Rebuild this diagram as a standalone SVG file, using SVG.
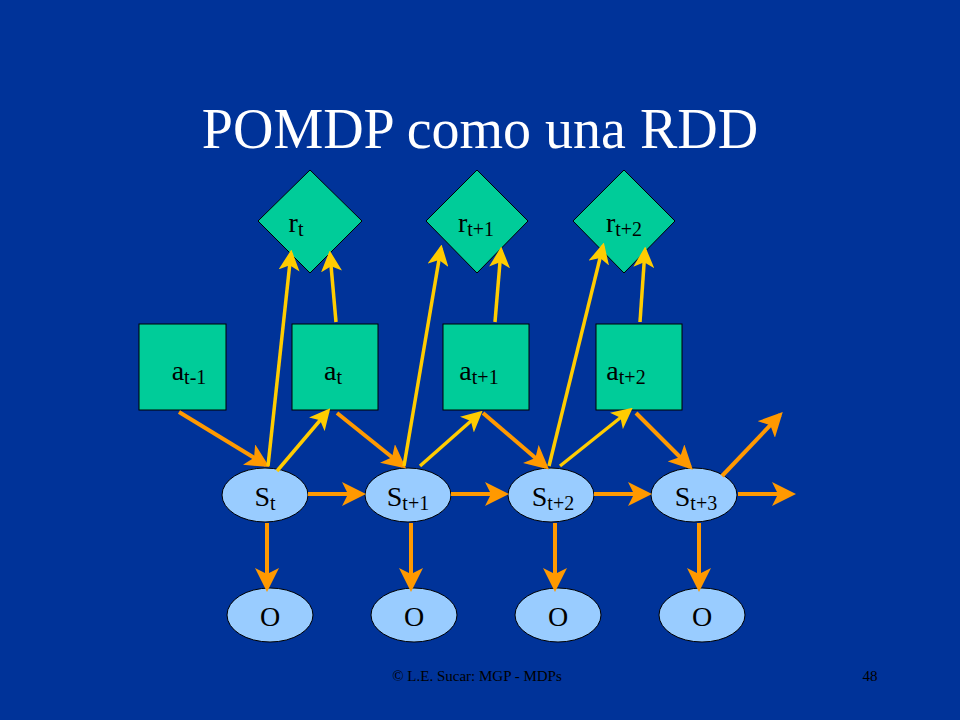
<svg xmlns="http://www.w3.org/2000/svg" width="960" height="720" viewBox="0 0 960 720">
<defs>
<marker id="mo" markerWidth="6" markerHeight="6" refX="5" refY="3" orient="auto" markerUnits="strokeWidth"><path d="M0,0 L6,3 L0,6 L1.5,3 Z" fill="#FF9900"/></marker>
<marker id="my" markerWidth="6" markerHeight="6" refX="5" refY="3" orient="auto" markerUnits="strokeWidth"><path d="M0,0 L6,3 L0,6 L1.5,3 Z" fill="#FFCC00"/></marker>
</defs>
<style>
text{font-family:"Liberation Serif","Times New Roman",serif;fill:#000}
.g{fill:#00CC99;stroke:#000;stroke-width:1}
.e{fill:#99CCFF;stroke:#000;stroke-width:1}
.o{stroke:#FF9900;stroke-width:4;fill:none;marker-end:url(#mo)}
.y{stroke:#FFCC00;stroke-width:3.5;fill:none;marker-end:url(#my)}
.l{font-size:28px;text-anchor:middle}
</style>
<rect width="960" height="720" fill="#003399"/>
<text x="480" y="148" text-anchor="middle" font-size="56" style="fill:#fff">POMDP como una RDD</text>
<g id="r0"><polygon class="g" points="310,170 362,221 310,273 258,221"/><text class="l" x="296" y="232">r<tspan font-size="20" dy="4">t</tspan></text></g>
<g id="r1"><polygon class="g" points="477,170 528,221 477,273 426,221"/><text class="l" x="476" y="232">r<tspan font-size="20" dy="4">t+1</tspan></text></g>
<g id="r2"><polygon class="g" points="624,170 675,221 624,273 573,221"/><text class="l" x="624" y="232">r<tspan font-size="20" dy="4">t+2</tspan></text></g>
<g id="a0"><rect class="g" x="139" y="324" width="87" height="86"/><text class="l" x="189" y="380">a<tspan font-size="20" dy="4">t-1</tspan></text></g>
<g id="a1"><rect class="g" x="292" y="324" width="86" height="86"/><text class="l" x="333" y="380">a<tspan font-size="20" dy="4">t</tspan></text></g>
<g id="a2"><rect class="g" x="443" y="324" width="86" height="86"/><text class="l" x="479" y="380">a<tspan font-size="20" dy="4">t+1</tspan></text></g>
<g id="a3"><rect class="g" x="596" y="324" width="86" height="86"/><text class="l" x="626" y="380">a<tspan font-size="20" dy="4">t+2</tspan></text></g>
<g id="s0"><ellipse class="e" cx="265" cy="495" rx="43" ry="27"/><text class="l" x="265" y="506">S<tspan font-size="20" dy="4">t</tspan></text></g>
<g id="s1"><ellipse class="e" cx="408" cy="495" rx="43" ry="27"/><text class="l" x="408" y="506">S<tspan font-size="20" dy="4">t+1</tspan></text></g>
<g id="s2"><ellipse class="e" cx="551" cy="495" rx="43" ry="27"/><text class="l" x="553" y="506">S<tspan font-size="20" dy="4">t+2</tspan></text></g>
<g id="s3"><ellipse class="e" cx="694" cy="495" rx="43" ry="27"/><text class="l" x="696" y="506">S<tspan font-size="20" dy="4">t+3</tspan></text></g>
<g id="o0"><ellipse class="e" cx="270" cy="615" rx="43" ry="27"/><text class="l" x="270" y="626">O</text></g>
<g id="o1"><ellipse class="e" cx="414" cy="615" rx="43" ry="27"/><text class="l" x="414" y="626">O</text></g>
<g id="o2"><ellipse class="e" cx="558" cy="615" rx="43" ry="27"/><text class="l" x="558" y="626">O</text></g>
<g id="o3"><ellipse class="e" cx="702" cy="615" rx="43" ry="27"/><text class="l" x="702" y="626">O</text></g>
<g id="connectors">
<line class="o" x1="179" y1="412" x2="266" y2="465"/>
<line class="y" x1="268" y1="466" x2="291" y2="253"/>
<line class="y" x1="277" y1="471" x2="328" y2="411"/>
<line class="o" x1="337" y1="413" x2="403" y2="466"/>
<line class="y" x1="336" y1="322" x2="330" y2="254"/>
<line class="y" x1="404" y1="466" x2="441" y2="248"/>
<line class="y" x1="420" y1="466" x2="480" y2="413"/>
<line class="y" x1="495" y1="322" x2="501" y2="250"/>
<line class="o" x1="483" y1="413" x2="546" y2="467"/>
<line class="y" x1="549" y1="466" x2="603" y2="246"/>
<line class="y" x1="560" y1="466" x2="630" y2="410"/>
<line class="y" x1="640" y1="322" x2="645" y2="250"/>
<line class="o" x1="636" y1="413" x2="690" y2="467"/>
<line class="o" x1="722" y1="476" x2="780" y2="415"/>
<line class="o" x1="738" y1="494" x2="792" y2="494"/>
<line class="o" x1="308" y1="494" x2="362" y2="494"/>
<line class="o" x1="451" y1="494" x2="505" y2="494"/>
<line class="o" x1="594" y1="494" x2="648" y2="494"/>
<line class="o" x1="267" y1="523" x2="267" y2="588"/>
<line class="o" x1="411" y1="523" x2="411" y2="588"/>
<line class="o" x1="555" y1="523" x2="555" y2="588"/>
<line class="o" x1="699" y1="523" x2="699" y2="588"/>
</g>
<text x="477" y="681" text-anchor="middle" font-size="15" style="fill:#000">© L.E. Sucar: MGP - MDPs</text>
<text x="870" y="681" text-anchor="middle" font-size="15" style="fill:#000">48</text>
</svg>
